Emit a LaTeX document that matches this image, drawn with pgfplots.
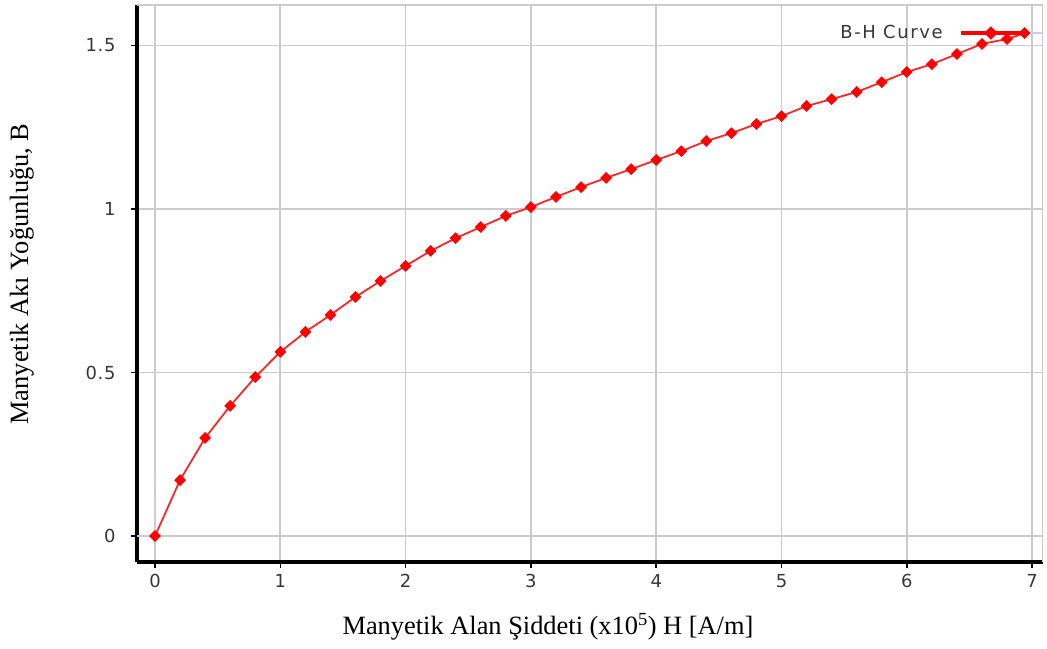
\documentclass[border=0pt]{standalone}
\usepackage{fontspec}
\setmainfont{Liberation Serif}
\newfontfamily\ticksans[LetterSpace=4]{DejaVu Sans}
\newfontfamily\legsans[LetterSpace=9]{DejaVu Sans}
\usepackage{pgfplots}
\pgfplotsset{compat=1.18}
\definecolor{gridgray}{RGB}{204,204,204}
\definecolor{ticktext}{RGB}{55,55,55}
\definecolor{paleblue}{RGB}{200,200,255}
\begin{document}
\begin{tikzpicture}[x=1bp,y=1bp]
\useasboundingbox (0,0) rectangle (1047,649);
\begin{axis}[
  at={(137bp,87bp)}, anchor=south west,
  scale only axis, width=906bp, height=557bp,
  xmin=-0.1437, xmax=7.087, ymin=-0.0795, ymax=1.624,
  axis lines=left,
  axis line style={-, black, line width=4.5bp},
  xtick={0,1,2,3,4,5,6,7}, xticklabels={0,1,2,3,4,5,6,7},
  ytick={0,0.5,1,1.5}, yticklabels={0,0.5,1,1.5},
  tick align=outside, major tick length=6bp,
  tick style={black, line width=1.5bp},
  grid=major, grid style={gridgray, line width=1.7bp},
  xticklabel style={font=\ticksans\fontsize{18}{18}\selectfont, text=ticktext, yshift=-3bp},
  yticklabel style={font=\ticksans\fontsize{18}{18}\selectfont, text=ticktext, xshift=-12bp},
  xlabel={Manyetik Alan Şiddeti (x10\textsuperscript{5}) H [A/m]},
  ylabel={Manyetik Akı Yoğunluğu, B},
  xlabel style={font=\fontsize{26.5}{26.5}\selectfont, at={(rel axis cs:0.4536,-0.1167)}, anchor=center},
  ylabel style={font=\fontsize{26.5}{26.5}\selectfont, at={(rel axis cs:-0.127,0.517)}, anchor=center, rotate=0},
  legend plot pos=right,
  legend style={at={(rel axis cs:0.9857,0.9497)}, anchor=east, draw=none, fill=none,
    font=\legsans\fontsize{18}{18}\selectfont, text=ticktext, inner sep=0pt, outer sep=0pt},
  legend image code/.code={
    \draw[red, line width=4.5bp] (0bp,0bp) -- (67bp,0bp);
    \begin{scope}[shift={(30bp,0bp)}, rotate=45]
      \fill[red] (-3.9bp,-3.9bp) rectangle (3.9bp,3.9bp);
    \end{scope}
  },
  clip=true,
]
\addplot[paleblue, line width=2bp, forget plot] coordinates {(-0.3,0) (0,0)};
\addplot[paleblue, line width=2bp, forget plot] coordinates {(6.94,1.538) (7.3,1.538)};
\addplot[red!85, line width=1.8bp, mark=square*, mark size=3.9bp,
  mark options={rotate=45, fill=red, draw=red, line width=0.5bp}] coordinates {
(0,0) (0.2,0.171) (0.4,0.300) (0.6,0.398) (0.8,0.486) (1.0,0.563)
(1.2,0.624) (1.4,0.676) (1.6,0.731) (1.8,0.780) (2.0,0.826) (2.2,0.872)
(2.4,0.911) (2.6,0.945) (2.8,0.979) (3.0,1.006) (3.2,1.037) (3.4,1.067)
(3.6,1.095) (3.8,1.122) (4.0,1.150) (4.2,1.177) (4.4,1.208) (4.6,1.232)
(4.8,1.260) (5.0,1.284) (5.2,1.315) (5.4,1.336) (5.6,1.358) (5.8,1.388)
(6.0,1.419) (6.2,1.443) (6.4,1.474) (6.6,1.505) (6.8,1.520) (6.94,1.538)
};
\addlegendentry{B-H Curve\rule{14bp}{0bp}}
\draw[gridgray, line width=1.5bp] (rel axis cs:0,1) -- (rel axis cs:1,1) -- (rel axis cs:1,0);
\end{axis}
\end{tikzpicture}
\end{document}
